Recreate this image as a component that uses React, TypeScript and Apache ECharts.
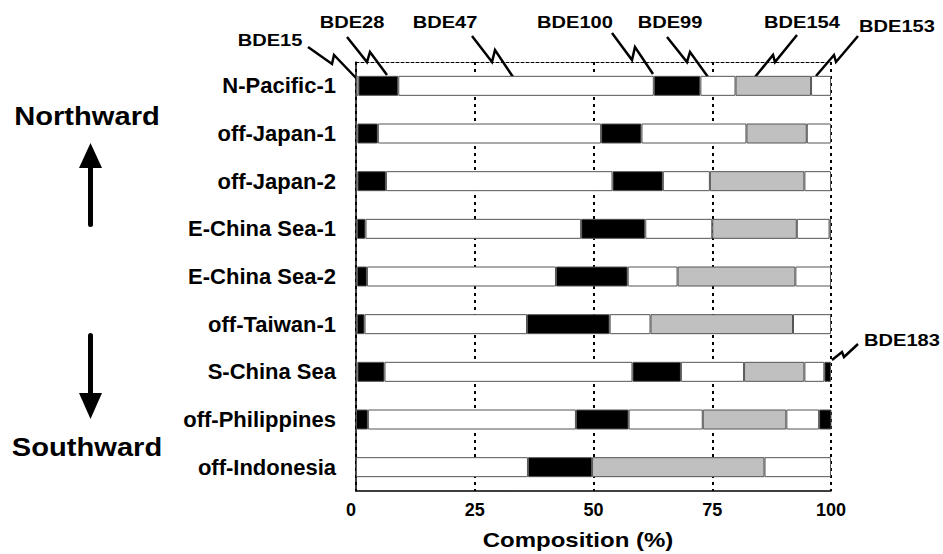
import { useEffect, useRef } from "react";
import * as echarts from "echarts";

const categories = [
  "N-Pacific-1",
  "off-Japan-1",
  "off-Japan-2",
  "E-China Sea-1",
  "E-China Sea-2",
  "off-Taiwan-1",
  "S-China Sea",
  "off-Philippines",
  "off-Indonesia",
];
const BDE15 = [0.5, 0.3, 0.3, 0.2, 0.2, 0.2, 0.3, 0, 0];
const BDE28 = [8.4, 4.3, 6.0, 1.8, 2.1, 1.6, 5.7, 2.5, 0];
const BDE47 = [53.8, 47.0, 47.7, 45.4, 39.8, 34.2, 52.2, 43.8, 36.2];
const BDE100 = [9.8, 8.5, 10.6, 13.5, 15.1, 17.4, 10.2, 11.1, 13.5];
const BDE99 = [7.4, 22.1, 9.9, 14.1, 10.5, 8.6, 13.3, 15.6, 0];
const BDE154 = [15.9, 12.7, 19.9, 17.8, 24.8, 30.0, 12.7, 17.6, 36.3];
const BDE153 = [4.2, 5.1, 5.6, 6.9, 7.5, 8.0, 4.2, 6.9, 14.0];
const BDE183 = [0, 0, 0, 0.3, 0, 0, 1.4, 2.6, 0];
const seriesNames = ["BDE15", "BDE28", "BDE47", "BDE100", "BDE99", "BDE154", "BDE153", "BDE183"];
const xMin = 0;
const xMax = 100;
const xInterval = 25;

const FONT = "Arial, 'Liberation Sans', sans-serif";

export default function App() {
  const ref = useRef<HTMLDivElement>(null);
  useEffect(() => {
    if (!ref.current) return;
    const chart = echarts.init(ref.current, undefined, { renderer: "svg" });
    const values = [BDE15, BDE28, BDE47, BDE100, BDE99, BDE154, BDE153, BDE183];
    const colors = ["#ffffff", "#000000", "#ffffff", "#000000", "#ffffff", "#c0c0c0", "#ffffff", "#000000"];

    const label = (text: string, x: number, y: number, size: number, sx: number) => ({
      type: "text",
      x,
      y,
      scaleX: sx,
      style: {
        text,
        fill: "#000",
        font: `bold ${size}px ${FONT}`,
        align: "center",
        verticalAlign: "middle",
      },
      silent: true,
    });
    const zig = (pts: number[][]) => ({
      type: "polyline",
      shape: { points: pts },
      style: { stroke: "#000", lineWidth: 2.5, fill: null },
      silent: true,
    });

    chart.setOption({
      animation: false,
      backgroundColor: "#ffffff",
      grid: { left: 356, right: 112, top: 62, bottom: 63, containLabel: false },
      xAxis: [
        {
          type: "value",
          min: xMin,
          max: xMax,
          interval: xInterval,
          position: "bottom",
          axisLine: { show: true, lineStyle: { color: "#000", width: 1.5 } },
          axisTick: { show: false },
          axisLabel: {
            color: "#000",
            fontFamily: FONT,
            fontWeight: "bold",
            fontSize: 18,
            margin: 10,
            alignMinLabel: "right",
          },
          splitLine: {
            show: true,
            lineStyle: { color: "#000", width: 2, type: [3, 4] },
          },
        },
        {
          type: "value",
          min: xMin,
          max: xMax,
          interval: xInterval,
          position: "top",
          axisLine: { show: true, lineStyle: { color: "#000", width: 1, type: [3, 2] } },
          axisTick: { show: false },
          axisLabel: { show: false },
          splitLine: { show: false },
        },
      ],
      yAxis: [
        {
          type: "category",
          data: categories,
          inverse: true,
          axisLine: { show: true, lineStyle: { color: "#000", width: 1.5 } },
          axisTick: { show: false },
          axisLabel: {
            color: "#000",
            fontFamily: FONT,
            fontWeight: "bold",
            fontSize: 22,
            margin: 20,
          },
          splitLine: { show: false },
        },
      ],
      series: seriesNames.map((name, i) => ({
        name,
        type: "bar",
        stack: "total",
        barWidth: 20,
        xAxisIndex: 0,
        yAxisIndex: 0,
        data: values[i].map((v) => (v === 0 ? "-" : v)),
        itemStyle: { color: colors[i], borderColor: "#555", borderWidth: 1 },
        emphasis: { disabled: true },
      })),
      graphic: [
        label("Northward", 87, 116, 26, 1.12),
        label("Southward", 87, 447, 26, 1.12),
        // up arrow
        { type: "polygon", shape: { points: [[90.5, 143], [79, 168], [102, 168]] }, style: { fill: "#000" }, silent: true },
        { type: "rect", shape: { x: 88, y: 166, width: 5, height: 61, r: 2.5 }, style: { fill: "#000" }, silent: true },
        // down arrow
        { type: "rect", shape: { x: 88, y: 333, width: 5, height: 62, r: 2.5 }, style: { fill: "#000" }, silent: true },
        { type: "polygon", shape: { points: [[79, 393], [102, 393], [90.5, 419]] }, style: { fill: "#000" }, silent: true },
        // series labels
        label("BDE15", 270, 40, 17, 1.18),
        label("BDE28", 352, 22, 17, 1.18),
        label("BDE47", 445, 22, 17, 1.18),
        label("BDE100", 575, 22, 17, 1.18),
        label("BDE99", 670, 22, 17, 1.18),
        label("BDE154", 802, 22, 17, 1.18),
        label("BDE153", 897, 26, 17, 1.18),
        label("BDE183", 902, 340, 17, 1.18),
        label("Composition (%)", 578, 540, 20, 1.2),
        // leader zigzags
        zig([[308, 47], [332, 64], [334, 55], [357, 79]]),
        zig([[347, 37], [367, 62], [370, 52], [387, 75]]),
        zig([[472, 36], [492, 62], [495, 50], [513, 77]]),
        zig([[612, 33], [632, 60], [635, 47], [653, 74]]),
        zig([[667, 37], [687, 62], [690, 52], [708, 77]]),
        zig([[755, 77], [773, 55], [775, 62], [797, 35]]),
        zig([[816, 76], [834, 55], [836, 62], [858, 36]]),
        zig([[832, 360], [842, 352], [844, 357], [858, 344]]),
      ],
    });
    return () => chart.dispose();
  }, []);
  return (
    <div
      ref={ref}
      style={{ position: "fixed", left: 0, top: 0, width: 943, height: 554, background: "#fff" }}
    />
  );
}
